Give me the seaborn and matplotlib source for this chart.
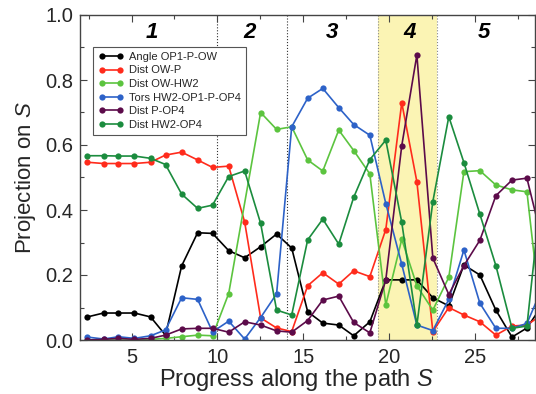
import numpy as np
import pandas as pd
import matplotlib
matplotlib.use("Agg")
import matplotlib.pyplot as plt
import seaborn as sns

# ---- data ----
S = [2.43, 3.37, 4.24, 5.17, 6.11, 6.98, 7.92, 8.85, 9.72, 10.66,
     11.59, 12.52, 13.45, 14.33, 15.26, 16.14, 17.07, 17.94, 18.88, 19.81,
     20.74, 21.62, 22.55, 23.48, 24.36, 25.29, 26.22, 27.16, 28.03, 28.96]

angle_op1_p_ow = [0.071, 0.083, 0.083, 0.083, 0.071, 0.015, 0.228, 0.330, 0.328, 0.275,
                  0.253, 0.287, 0.326, 0.283, 0.087, 0.052, 0.046, 0.013, 0.056, 0.185,
                  0.185, 0.185, 0.130, 0.105, 0.231, 0.200, 0.092, 0.009, 0.037, 0.110]
dist_ow_p = [0.547, 0.543, 0.543, 0.543, 0.547, 0.569, 0.578, 0.554, 0.531, 0.535,
             0.363, 0.068, 0.037, 0.026, 0.167, 0.207, 0.172, 0.213, 0.195, 0.340,
             0.730, 0.487, 0.026, 0.100, 0.077, 0.056, 0.015, 0.043, 0.046, 0.080]
dist_ow_hw2 = [0.000, 0.000, 0.000, 0.000, 0.002, 0.005, 0.010, 0.015, 0.013, 0.143,
               np.nan, 0.700, 0.648, 0.656, 0.554, 0.520, 0.646, 0.583, 0.511, 0.108,
               0.310, 0.167, 0.092, 0.193, 0.518, 0.521, 0.477, 0.462, 0.456, 0.020]
tors_hw2_op1_p_op4 = [0.009, 0.003, 0.010, 0.005, 0.013, 0.031, 0.130, 0.125, 0.025, 0.058,
                      0.003, 0.069, 0.142, 0.656, 0.744, 0.774, 0.715, 0.663, 0.630, 0.420,
                      0.233, 0.046, 0.029, 0.125, 0.277, 0.113, 0.036, 0.036, 0.051, 0.165]
dist_p_op4 = [0.000, 0.002, 0.005, 0.002, 0.005, 0.015, 0.034, 0.036, 0.036, 0.024,
              0.056, 0.046, 0.028, 0.024, 0.060, 0.123, 0.135, 0.054, 0.022, 0.185,
              0.598, 0.877, 0.252, 0.140, 0.229, 0.307, 0.444, 0.492, 0.498, 0.297]
dist_hw2_op4 = [0.567, 0.567, 0.566, 0.566, 0.559, 0.540, 0.449, 0.405, 0.415, 0.503,
                0.520, 0.359, 0.092, 0.077, 0.308, 0.372, 0.295, 0.439, 0.555, 0.615,
                0.362, 0.046, 0.426, 0.687, 0.546, 0.387, 0.229, 0.036, 0.043, 0.500]

series_names = ["Angle OP1-P-OW", "Dist OW-P", "Dist OW-HW2",
                "Tors HW2-OP1-P-OP4", "Dist P-OP4", "Dist HW2-OP4"]
series_values = [angle_op1_p_ow, dist_ow_p, dist_ow_hw2,
                 tors_hw2_op1_p_op4, dist_p_op4, dist_hw2_op4]
colors = ["#000000", "#ff2b1c", "#5cc43f", "#2d62c8", "#5c0b4a", "#1b8c3e"]

region_labels = ["1", "2", "3", "4", "5"]
region_x = [6.2, 11.9, 16.7, 21.2, 25.5]
divider_x = [9.96, 14.04]
band_range = [19.35, 22.8]

x_ticks = [5, 10, 15, 20, 25]
y_ticks = [0.0, 0.2, 0.4, 0.6, 0.8, 1.0]

# ---- plotting ----
sns.set_theme(style="white")
plt.rcParams["font.family"] = ["Liberation Sans", "DejaVu Sans"]
plt.rcParams["mathtext.fontset"] = "custom"
plt.rcParams["mathtext.rm"] = "Liberation Sans"
plt.rcParams["mathtext.it"] = "Liberation Sans:italic"

df = pd.DataFrame({
    "S": np.tile(S, len(series_names)),
    "value": np.concatenate(series_values),
    "series": np.repeat(series_names, len(S)),
}).dropna()

fig = plt.figure(figsize=(5.36, 3.94), dpi=100)
ax = fig.add_axes([80 / 536, 54 / 394, 455 / 536, 325 / 394])

ax.axvspan(band_range[0], band_range[1], color="#fbf4b4", zorder=0, lw=0)
for bx in band_range:
    ax.axvline(bx, color="#888888", ls=":", lw=0.8, zorder=0.5)
for dx in divider_x:
    ax.axvline(dx, color="#333333", ls=":", lw=0.8, zorder=0.5)

sns.lineplot(data=df, x="S", y="value", hue="series", hue_order=series_names,
             palette=colors, marker="o", markersize=4.5, markeredgewidth=0,
             linewidth=1.2, ax=ax, sort=False, legend=True)

ax.set_xlim(2.0, 28.5)
ax.set_ylim(0.0, 1.0)
ax.set_xticks(x_ticks)
ax.set_xticks(np.arange(2.5, 28.5, 2.5), minor=True)
ax.set_yticks(y_ticks)
ax.set_yticks(np.arange(0.1, 1.0, 0.2), minor=True)
ax.set_yticklabels([f"{v:.1f}" for v in y_ticks])
ax.tick_params(axis="both", which="both", direction="in", top=True, right=True,
               bottom=True, left=True, color="#444444", labelsize=14.5)
ax.tick_params(axis="both", which="major", length=5, width=0.8)
ax.tick_params(axis="both", which="minor", length=3, width=0.8)
ax.tick_params(axis="x", which="major", pad=6)
ax.tick_params(axis="y", which="major", pad=5)
for sp in ax.spines.values():
    sp.set_color("#444444")
    sp.set_linewidth(1.0)

ax.set_xlabel("Progress along the path $S$", fontsize=17)
ax.xaxis.set_label_coords(0.476, -0.083)
ax.set_ylabel("Projection on $S$", fontsize=16, labelpad=5)

for lab, rx in zip(region_labels, region_x):
    ax.text(rx, 0.945, lab, ha="center", va="center", fontsize=16,
            fontweight="bold", fontstyle="italic", color="black")

leg = ax.legend(loc="upper left", bbox_to_anchor=(0.029, 0.902), borderaxespad=0,
                fontsize=8, frameon=True, fancybox=False, handlelength=2.3,
                handletextpad=0.5, labelspacing=0.32, borderpad=0.45, numpoints=2)
leg.get_frame().set_edgecolor("#555555")
leg.get_frame().set_linewidth(0.8)
leg.get_frame().set_facecolor("white")
leg.get_frame().set_alpha(1.0)

fig.savefig("out.png", dpi=100)
